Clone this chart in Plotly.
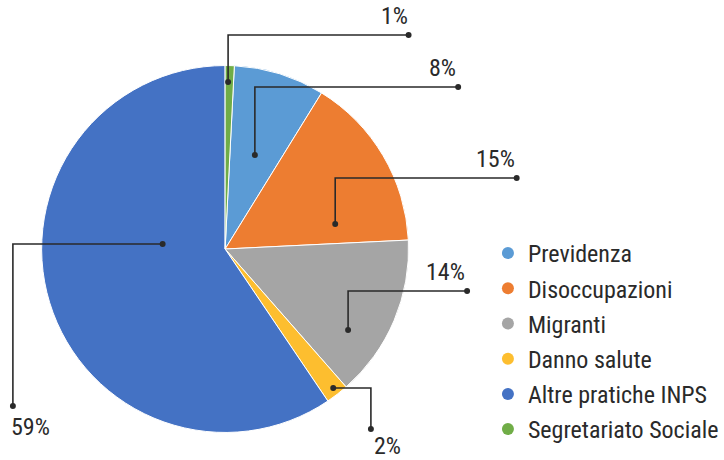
import plotly.graph_objects as go

# data (clockwise from top the first slice drawn is Segretariato Sociale)
categories = ["Previdenza", "Disoccupazioni", "Migranti", "Danno salute",
              "Altre pratiche INPS", "Segretariato Sociale"]
values = [8.0, 15.4, 14.3, 2.0, 59.4, 0.8]
colors = ["#5B9BD5", "#ED7D31", "#A5A5A5", "#FDBE2F", "#4472C4", "#70AD47"]

W, H = 724, 460
FONT = "Liberation Sans Narrow, Roboto Condensed, Arial Narrow, Liberation Sans, sans-serif"
INK = "#2a2a2a"

total = sum(values)
pct_text = [f"{round(v / total * 100)}%" for v in values]

# leader line layout in pixels: points of the polyline (dot inside slice first), label anchor
leaders = {
    "Previdenza": ([(257, 155), (257, 87), (462, 87)], (462, 84), "right", "bottom"),
    "Disoccupazioni": ([(338, 224), (338, 178), (521, 178)], (521, 175), "right", "bottom"),
    "Migranti": ([(351, 330), (351, 291), (471, 291)], (471, 288), "right", "bottom"),
    "Danno salute": ([(336, 388), (374, 388), (374, 429)], (375, 430), "left", "top"),
    "Altre pratiche INPS": ([(164, 244), (13, 244), (13, 406)], (9, 411), "left", "top"),
    "Segretariato Sociale": ([(230, 82), (230, 35), (412, 35)], (413, 32), "right", "bottom"),
}


def px(x):
    return x / W


def py(y):
    return 1 - y / H


fig = go.Figure()
fig.add_trace(go.Pie(
    labels=categories,
    values=values,
    marker=dict(colors=colors, line=dict(color="white", width=1)),
    sort=False,
    direction="clockwise",
    rotation=values[-1] / total * 360,
    textinfo="none",
    hoverinfo="label+percent",
    showlegend=False,
    domain=dict(x=[px(42), px(412)], y=[py(434), py(64)]),
))

# legend entries with round markers
for i, (name, c) in enumerate(zip(categories, colors)):
    fig.add_trace(go.Scatter(
        x=[None], y=[None], mode="markers", name=name, legendgroup=f"g{i}",
        marker=dict(symbol="circle", size=14, color=c),
    ))

shapes = []
annotations = []
for name, txt in zip(categories, pct_text):
    pts, (lx, ly), xa, ya = leaders[name]
    path = "M " + " L ".join(f"{px(x)} {py(y)}" for x, y in pts)
    shapes.append(dict(type="path", path=path, xref="paper", yref="paper",
                       line=dict(color=INK, width=1.6)))
    for x, y in (pts[0], pts[-1]):
        shapes.append(dict(type="circle", xref="paper", yref="paper",
                           x0=px(x - 3), x1=px(x + 3), y0=py(y + 3), y1=py(y - 3),
                           fillcolor=INK, line=dict(width=0)))
    annotations.append(dict(text=txt, x=px(lx), y=py(ly), xref="paper", yref="paper",
                            xanchor=xa, yanchor=ya, showarrow=False,
                            font=dict(family=FONT, size=24, color=INK)))

fig.update_layout(
    width=W, height=H,
    margin=dict(l=0, r=0, t=0, b=0),
    paper_bgcolor="white",
    plot_bgcolor="white",
    xaxis=dict(visible=False),
    yaxis=dict(visible=False),
    shapes=shapes,
    annotations=annotations,
    legend=dict(
        x=px(492), y=py(231), xanchor="left", yanchor="top",
        font=dict(family=FONT, size=24, color=INK),
        itemsizing="constant",
        tracegroupgap=1,
        bgcolor="rgba(0,0,0,0)",
    ),
)

fig.write_html("out.html", config={"displayModeBar": False},
               post_script="document.body.style.margin='0';"
                           "document.body.style.overflow='hidden';")
